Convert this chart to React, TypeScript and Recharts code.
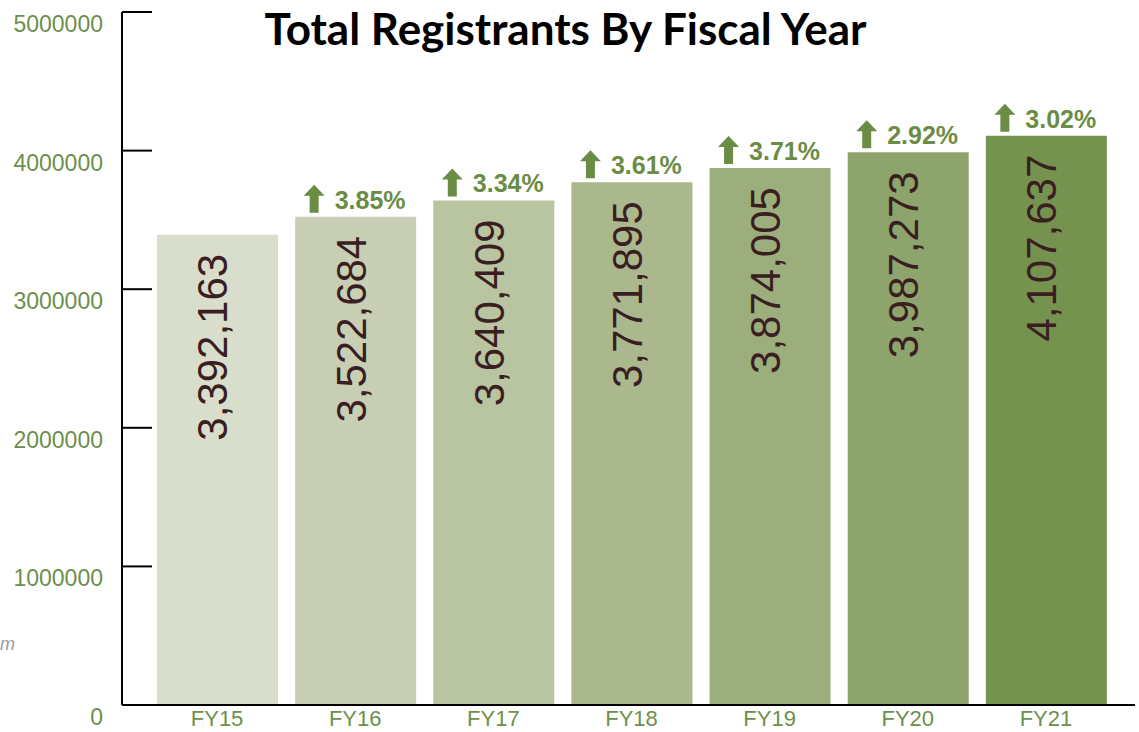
import React from 'react';
import { BarChart, Bar, XAxis, YAxis, Cell, LabelList } from 'recharts';

const categories = ['FY15', 'FY16', 'FY17', 'FY18', 'FY19', 'FY20', 'FY21'];
const registrants = [3392163, 3522684, 3640409, 3771895, 3874005, 3987273, 4107637];
const growthPct = [null, 3.85, 3.34, 3.61, 3.71, 2.92, 3.02];
const barColors = ['#d9ddcc', '#c9cfb5', '#b9c4a1', '#abb78d', '#9dae7d', '#8da46d', '#76924f'];
const yTicks = [0, 1000000, 2000000, 3000000, 4000000, 5000000];

const data = categories.map((name, i) => ({
  name,
  value: registrants[i],
  growth: growthPct[i],
}));

const GREEN = '#6c8f4c';
const ARROW_GREEN = '#6a8c44';
const NUM_COLOR = '#3a1e22';

const YTick = (props: any) => {
  const { x, y, payload } = props;
  return (
    <g>
      <line x1={x} x2={x + 30} y1={y} y2={y} stroke="#000" strokeWidth={2} />
      <text x={x - 19} y={y + 20} textAnchor="end" fill={GREEN} fontSize={23} fontFamily="'Liberation Sans', Arial, sans-serif">
        {payload.value}
      </text>
    </g>
  );
};

const XTick = (props: any) => {
  const { x, y, payload } = props;
  return (
    <text x={x} y={y + 21} textAnchor="middle" fill={GREEN} fontSize={22} fontFamily="'Liberation Sans', Arial, sans-serif">
      {payload.value}
    </text>
  );
};

const ValueLabel = (props: any) => {
  const { x, y, width, value } = props;
  const cx = x + width / 2 + 10;
  const ty = y + 19;
  return (
    <text
      x={cx}
      y={ty}
      transform={`rotate(-90 ${cx} ${ty})`}
      textAnchor="end"
      fill={NUM_COLOR}
      fontSize={42}
      fontFamily="'Liberation Sans', Arial, sans-serif"
    >
      {Number(value).toLocaleString('en-US')}
    </text>
  );
};

const GrowthLabel = (props: any) => {
  const { x, y, width, value } = props;
  if (value === null || value === undefined) return null;
  const c = x + width / 2;
  const bottom = y - 4;
  const headBase = y - 21;
  const top = y - 32;
  const pts = [
    [c - 46, bottom],
    [c - 46, headBase],
    [c - 52, headBase],
    [c - 41.5, top],
    [c - 31, headBase],
    [c - 37, headBase],
    [c - 37, bottom],
  ]
    .map((p) => p.join(','))
    .join(' ');
  return (
    <g>
      <polygon points={pts} fill={ARROW_GREEN} />
      <text x={c - 21} y={y - 8} fill={ARROW_GREEN} fontSize={25} fontWeight="bold" fontFamily="'Liberation Sans', Arial, sans-serif">
        {`${Number(value).toFixed(2)}%`}
      </text>
    </g>
  );
};

export default function App() {
  return (
    <div style={{ position: 'absolute', left: 0, top: 0, width: 1139, height: 732, background: '#fff' }}>
      <BarChart
        width={1139}
        height={732}
        data={data}
        margin={{ top: 12, right: 4, bottom: 0, left: 0 }}
      >
        <XAxis
          dataKey="name"
          axisLine={{ stroke: '#000', strokeWidth: 2 }}
          tickLine={false}
          tick={<XTick />}
          tickSize={0}
          tickMargin={0}
          height={27}
          padding={{ left: 26, right: 20 }}
          interval={0}
        />
        <YAxis
          domain={[0, 5000000]}
          ticks={yTicks}
          width={122}
          axisLine={{ stroke: '#000', strokeWidth: 2 }}
          tickLine={false}
          tickSize={0}
          tickMargin={0}
          tick={<YTick />}
          interval={0}
        />
        <Bar dataKey="value" barSize={121} isAnimationActive={false}>
          {data.map((d, i) => (
            <Cell key={d.name} fill={barColors[i]} />
          ))}
          <LabelList dataKey="value" content={<ValueLabel />} />
          <LabelList dataKey="growth" content={<GrowthLabel />} />
        </Bar>
      </BarChart>
      <div
        style={{
          position: 'absolute',
          left: 0,
          width: 1131,
          top: 0,
          textAlign: 'center',
          fontFamily: "Lato, 'Open Sans', sans-serif",
          fontWeight: 700,
          fontSize: 44,
          color: '#000',
          lineHeight: '56px',
        }}
      >
        Total Registrants By Fiscal Year
      </div>
      <div
        style={{
          position: 'absolute',
          left: 0,
          top: 634,
          fontFamily: "'Liberation Sans', Arial, sans-serif",
          fontStyle: 'italic',
          fontSize: 18,
          color: '#9a9a9a',
        }}
      >
        m
      </div>
    </div>
  );
}
